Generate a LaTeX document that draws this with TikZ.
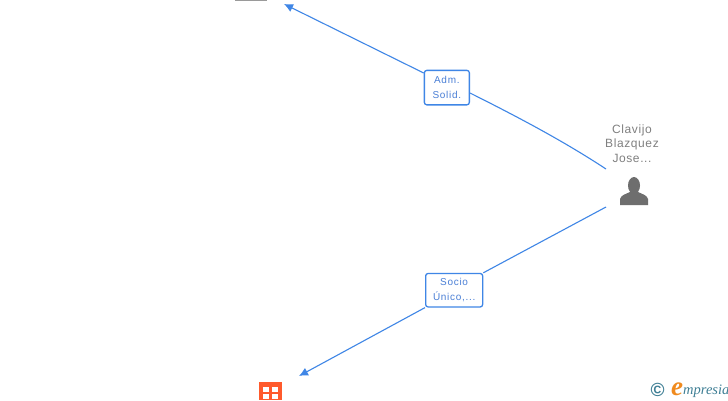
\documentclass[tikz,border=0pt]{standalone}
\usepackage{fontspec}
\setmainfont{Liberation Sans}
\newfontfamily\logofont{Liberation Serif}
\usetikzlibrary{arrows.meta}
\definecolor{linkblue}{HTML}{3F86E6}
\definecolor{txtblue}{HTML}{4A7FD6}
\definecolor{txtgray}{HTML}{808080}
\definecolor{icongray}{HTML}{6E6E6E}
\definecolor{bricko}{HTML}{FF5A2C}
\definecolor{logoteal}{HTML}{3F7F95}
\definecolor{logoorange}{HTML}{F08A1E}
\tikzset{
  labelbox/.style={draw=linkblue,line width=1.3pt,rounded corners=2.5pt,fill=white,inner sep=0pt,align=center,text=txtblue,font=\fontsize{10}{14.5}\selectfont,anchor=north west},
  link/.style={draw=linkblue,line width=1.1pt},
  linkarrow/.style={link,-{Latex[length=9pt,width=8.5pt]}},
  persontext/.style={text=txtgray,align=center,font=\fontsize{12}{14.5}\selectfont,inner sep=0pt}
}
\begin{document}
\begin{tikzpicture}[x=1pt,y=-1pt]
\useasboundingbox (0,0) rectangle (728,400);
\fill[white] (0,0) rectangle (728,400);
% top cut-off icon
\fill[icongray!70] (235,0) rectangle (267,1);
% coordinates of free ends
\coordinate (topEnd) at (284,4);
\coordinate (botEnd) at (299,376);
\coordinate (pTop) at (606,169);
\coordinate (pBot) at (606,207);
% label boxes
\node[labelbox,minimum width=45pt,minimum height=34.5pt] (adm) at (423.7,69.7) {\addfontfeatures{LetterSpace=7}Adm.\\\addfontfeatures{LetterSpace=7}Solid.};
\node[labelbox,minimum width=57pt,minimum height=33.5pt] (socio) at (425,272.8) {\addfontfeatures{LetterSpace=7}Socio\\\addfontfeatures{LetterSpace=7}Único,...};
% person
\node[persontext] (person) at (632,143.5) {\addfontfeatures{LetterSpace=5}Clavijo\\\addfontfeatures{LetterSpace=5}Blazquez\\\addfontfeatures{LetterSpace=5}Jose...};
\fill[icongray] (634,185.5) ellipse (6pt and 8.5pt);
\fill[icongray] (620,205) -- (620,199) .. controls (621,195) and (626,194) .. (630,192) -- (638,192) .. controls (642,194) and (647,195) .. (648,199) -- (648,205) -- cycle;
% connectors
\draw[link] (pTop) .. controls (565,142) and (520,118) .. (adm.east |- 0,93);
\draw[linkarrow] (adm.north west |- 0,73) -- (topEnd);
\draw[link] (pBot) -- (socio.north east);
\draw[linkarrow] (socio.south west) -- (botEnd);
% company icon
\fill[bricko] (259,382) rectangle (282,400);
\foreach \x in {263,272}{\foreach \y in {386.5,394}{\fill[white] (\x,\y) rectangle +(5.5,5);}}
% logo
\node[inner sep=0pt,text=logoteal,font=\bfseries\fontsize{19}{19}\selectfont] (copy) at (657.5,389.5) {©};
\node[inner sep=0pt,text=logoorange,font=\logofont\itshape\bfseries\fontsize{27}{27}\selectfont] (logoe) at (677,389) {e};
\node[inner sep=0pt,anchor=base west,text=logoteal,font=\logofont\itshape\fontsize{14.5}{14.5}\selectfont] (logot) at (683,394) {mpresia};
\end{tikzpicture}
\end{document}
